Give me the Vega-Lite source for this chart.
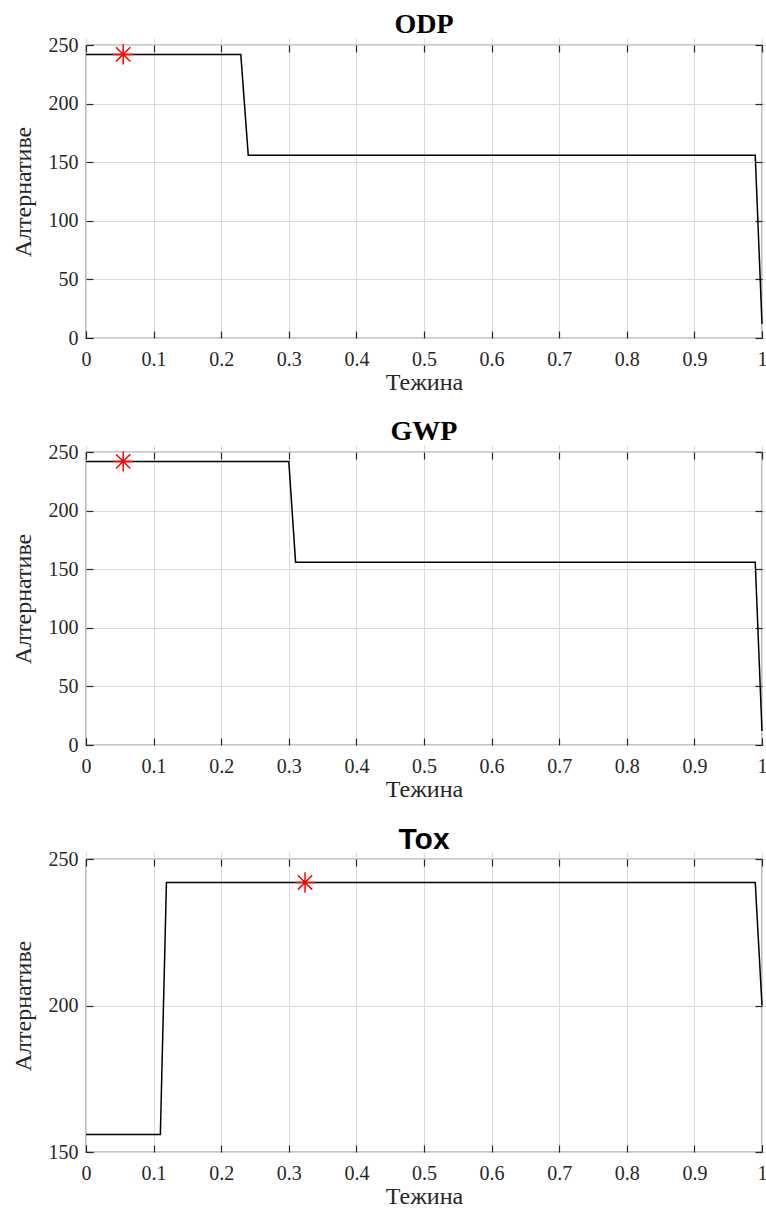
{
  "$schema": "https://vega.github.io/schema/vega-lite/v6.json",
  "background": "white",
  "padding": {"left": 10, "top": 10, "right": 0, "bottom": 0},
  "spacing": 22,
  "datasets": {
    "odp": [
      {"x": 0, "y": 242}, {"x": 0.229, "y": 242}, {"x": 0.24, "y": 156},
      {"x": 0.99, "y": 156}, {"x": 1, "y": 12}
    ],
    "gwp": [
      {"x": 0, "y": 242}, {"x": 0.3, "y": 242}, {"x": 0.31, "y": 156},
      {"x": 0.99, "y": 156}, {"x": 1, "y": 12}
    ],
    "tox": [
      {"x": 0, "y": 156}, {"x": 0.11, "y": 156}, {"x": 0.119, "y": 242},
      {"x": 0.99, "y": 242}, {"x": 1, "y": 200}
    ],
    "odp_star": [{"x": 0.055, "y": 242}],
    "gwp_star": [{"x": 0.055, "y": 242}],
    "tox_star": [{"x": 0.324, "y": 242}]
  },
  "config": {
    "view": {"stroke": "#262626", "strokeWidth": 1.2},
    "axis": {
      "labelFont": "Liberation Serif", "labelFontSize": 20, "labelColor": "#262626",
      "titleFont": "Liberation Serif", "titleFontSize": 24, "titleFontWeight": "normal", "titleColor": "#262626",
      "tickColor": "#262626", "tickSize": 7, "tickWidth": 1.2, "offset": -7,
      "gridColor": "#dadada", "gridWidth": 1,
      "domain": false, "labelFlush": false, "labelOverlap": false
    },
    "title": {"font": "Liberation Serif", "fontSize": 28, "fontWeight": "bold", "color": "black", "offset": -4}
  },
  "vconcat": [
    {
      "width": 676, "height": 293,
      "title": {"text": "ODP", "font": "Liberation Serif", "fontWeight": "bold"},
      "layer": [
        {
          "data": {"name": "odp"},
          "mark": {"type": "line", "color": "black", "strokeWidth": 1.5},
          "encoding": {
            "x": {"field": "x", "type": "quantitative", "scale": {"domain": [0, 1], "nice": false},
                  "axis": {"orient": "bottom", "title": "Тежина", "values": [0,0.1,0.2,0.3,0.4,0.5,0.6,0.7,0.8,0.9,1], "format": "~r", "labelFont": "Liberation Serif", "titleFont": "Liberation Serif", "labelPadding": 11, "titlePadding": 1}},
            "y": {"field": "y", "type": "quantitative", "scale": {"domain": [0, 250], "nice": false},
                  "axis": {"orient": "left", "title": "Алтернативе", "values": [0,50,100,150,200,250], "format": "d", "labelFont": "Liberation Serif", "titleFont": "Liberation Serif", "labelPadding": 8, "titlePadding": 13}}
          }
        },
        {
          "data": {"name": "odp_star"},
          "mark": {"type": "point", "shape": "M0,-1L0,1M-1,0L1,0M-0.7,-0.7L0.7,0.7M-0.7,0.7L0.7,-0.7", "color": "red", "size": 420, "strokeWidth": 1.5, "filled": false, "opacity": 1},
          "encoding": {
            "x": {"field": "x", "type": "quantitative", "scale": {"domain": [0, 1], "nice": false},
                  "axis": {"orient": "top", "title": null, "labels": false, "grid": false, "values": [0,0.1,0.2,0.3,0.4,0.5,0.6,0.7,0.8,0.9,1]}},
            "y": {"field": "y", "type": "quantitative", "scale": {"domain": [0, 250], "nice": false},
                  "axis": {"orient": "right", "title": null, "labels": false, "grid": false, "values": [0,50,100,150,200,250]}}
          }
        }
      ],
      "resolve": {"axis": {"x": "independent", "y": "independent"}}
    },
    {
      "width": 676, "height": 293,
      "title": {"text": "GWP", "font": "Liberation Serif", "fontWeight": "bold"},
      "layer": [
        {
          "data": {"name": "gwp"},
          "mark": {"type": "line", "color": "black", "strokeWidth": 1.5},
          "encoding": {
            "x": {"field": "x", "type": "quantitative", "scale": {"domain": [0, 1], "nice": false},
                  "axis": {"orient": "bottom", "title": "Тежина", "values": [0,0.1,0.2,0.3,0.4,0.5,0.6,0.7,0.8,0.9,1], "format": "~r", "labelFont": "Liberation Serif", "titleFont": "Liberation Serif", "labelPadding": 11, "titlePadding": 1}},
            "y": {"field": "y", "type": "quantitative", "scale": {"domain": [0, 250], "nice": false},
                  "axis": {"orient": "left", "title": "Алтернативе", "values": [0,50,100,150,200,250], "format": "d", "labelFont": "Liberation Serif", "titleFont": "Liberation Serif", "labelPadding": 8, "titlePadding": 13}}
          }
        },
        {
          "data": {"name": "gwp_star"},
          "mark": {"type": "point", "shape": "M0,-1L0,1M-1,0L1,0M-0.7,-0.7L0.7,0.7M-0.7,0.7L0.7,-0.7", "color": "red", "size": 420, "strokeWidth": 1.5, "filled": false, "opacity": 1},
          "encoding": {
            "x": {"field": "x", "type": "quantitative", "scale": {"domain": [0, 1], "nice": false},
                  "axis": {"orient": "top", "title": null, "labels": false, "grid": false, "values": [0,0.1,0.2,0.3,0.4,0.5,0.6,0.7,0.8,0.9,1]}},
            "y": {"field": "y", "type": "quantitative", "scale": {"domain": [0, 250], "nice": false},
                  "axis": {"orient": "right", "title": null, "labels": false, "grid": false, "values": [0,50,100,150,200,250]}}
          }
        }
      ],
      "resolve": {"axis": {"x": "independent", "y": "independent"}}
    },
    {
      "width": 676, "height": 293,
      "title": {"text": "Tox", "font": "Liberation Sans", "fontWeight": "bold", "fontSize": 30, "offset": -6},
      "layer": [
        {
          "data": {"name": "tox"},
          "mark": {"type": "line", "color": "black", "strokeWidth": 1.5},
          "encoding": {
            "x": {"field": "x", "type": "quantitative", "scale": {"domain": [0, 1], "nice": false},
                  "axis": {"orient": "bottom", "title": "Тежина", "values": [0,0.1,0.2,0.3,0.4,0.5,0.6,0.7,0.8,0.9,1], "format": "~r", "labelFont": "Liberation Serif", "titleFont": "Liberation Serif", "labelPadding": 11, "titlePadding": 1}},
            "y": {"field": "y", "type": "quantitative", "scale": {"domain": [150, 250], "nice": false},
                  "axis": {"orient": "left", "title": "Алтернативе", "values": [150,200,250], "format": "d", "labelFont": "Liberation Serif", "titleFont": "Liberation Serif", "labelPadding": 8, "titlePadding": 13}}
          }
        },
        {
          "data": {"name": "tox_star"},
          "mark": {"type": "point", "shape": "M0,-1L0,1M-1,0L1,0M-0.7,-0.7L0.7,0.7M-0.7,0.7L0.7,-0.7", "color": "red", "size": 420, "strokeWidth": 1.5, "filled": false, "opacity": 1},
          "encoding": {
            "x": {"field": "x", "type": "quantitative", "scale": {"domain": [0, 1], "nice": false},
                  "axis": {"orient": "top", "title": null, "labels": false, "grid": false, "values": [0,0.1,0.2,0.3,0.4,0.5,0.6,0.7,0.8,0.9,1]}},
            "y": {"field": "y", "type": "quantitative", "scale": {"domain": [150, 250], "nice": false},
                  "axis": {"orient": "right", "title": null, "labels": false, "grid": false, "values": [150,200,250]}}
          }
        }
      ],
      "resolve": {"axis": {"x": "independent", "y": "independent"}}
    }
  ]
}
